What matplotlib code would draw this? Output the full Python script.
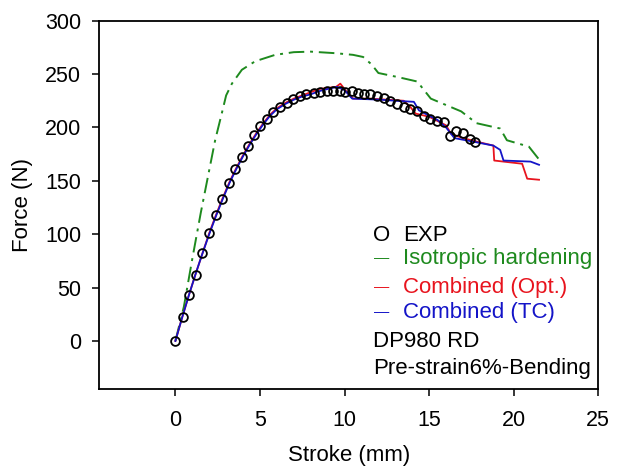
import matplotlib
matplotlib.use("Agg")
import matplotlib.pyplot as plt

plt.rcParams['font.family'] = ['Liberation Sans', 'DejaVu Sans']

# experimental points
exp_x = [0.0, 0.42, 0.83, 1.22, 1.60, 1.97, 2.39, 2.74, 3.14, 3.55, 3.91, 4.28, 4.66,
         5.01, 5.41, 5.80, 6.20, 6.59, 6.95, 7.34, 7.73, 8.17, 8.56, 8.96, 9.31, 9.71,
         10.04, 10.44, 10.77, 11.13, 11.52, 11.92, 12.31, 12.71, 13.10, 13.49, 13.89,
         14.28, 14.68, 15.07, 15.47, 15.86, 16.21, 16.61, 17.00, 17.40, 17.73]
exp_y = [0, 22, 43, 62, 82, 101, 118, 133, 148, 161, 172, 183, 193,
         201, 208, 214, 219, 223, 227, 229, 231, 232, 233, 234, 234, 234,
         233, 234, 232, 231, 231, 229, 228, 225, 222, 219, 217,
         215, 211, 208, 206, 205, 192, 197, 195, 189, 186]

iso_x = [0, 0.5, 1.0, 1.5, 2.0, 2.35, 2.74, 3.0, 3.34, 3.93, 4.72, 5.9, 7.0, 8.0, 9.5,
         10.5, 11.1, 11.6, 12.0, 13.2, 14.3, 15.1, 16.0, 16.9, 17.8, 19.2, 19.6, 20.9, 21.5]
iso_y = [0, 32, 77, 120, 160, 188, 213, 230, 241, 254, 262, 268, 270.5, 271, 269.5,
         268, 266, 259, 251, 247, 243, 227, 221, 215, 204, 199, 188, 182, 170]

opt_x = [0, 0.4, 0.8, 1.2, 1.6, 2.0, 2.4, 2.8, 3.2, 3.6, 4.0, 4.4, 4.8, 5.2, 5.6, 6.0,
         6.5, 7.0, 7.5, 8.0, 8.5, 9.0, 9.5, 9.75, 10.2, 10.5, 11.5, 12.5, 13.5, 13.9,
         14.2, 15.0, 16.0, 16.3, 17.0, 18.0, 18.8, 18.85, 20.5, 20.8, 21.5]
opt_y = [0, 22, 43, 63, 82, 101, 118, 134, 149, 162, 174, 185, 195, 204, 212, 218,
         223, 227, 230, 233, 236, 237, 238, 241, 232, 227, 227, 226, 225, 219,
         213, 210, 202, 194, 190, 186, 183, 169, 166, 152, 151]

tc_x = [0, 0.4, 0.8, 1.2, 1.6, 2.0, 2.4, 2.8, 3.2, 3.6, 4.0, 4.4, 4.8, 5.2, 5.6, 6.0,
        6.5, 7.0, 7.5, 8.0, 8.5, 9.0, 9.55, 10.0, 10.45, 12.1, 13.0, 14.1, 14.4, 15.0,
        15.5, 16.0, 16.5, 17.5, 18.8, 19.2, 19.4, 21.0, 21.5]
tc_y = [0, 22, 43, 63, 82, 100, 117, 133, 148, 161, 173, 184, 194, 203, 211, 217,
        222, 226, 229, 231, 234, 236, 238, 235, 227, 226, 225, 224, 216, 211,
        207, 200, 190, 187, 183, 179, 169, 168, 165]

labels = ['EXP', 'Isotropic hardening', 'Combined (Opt.)', 'Combined (TC)']
notes = ['DP980 RD', 'Pre-strain6%-Bending']

green = '#1e8a1e'
red = '#e8141e'
blue = '#1414c8'

fig = plt.figure(figsize=(6.34, 4.71), dpi=100)
ax = fig.add_axes([0.1566, 0.1741, 0.787, 0.782])

ax.plot(iso_x, iso_y, color=green, linewidth=1.4, dashes=(8, 3, 1.5, 3))
ax.plot(opt_x, opt_y, color=red, linewidth=1.3)
ax.plot(tc_x, tc_y, color=blue, linewidth=1.3)
ax.plot(exp_x, exp_y, 'o', mfc='none', mec='black', ms=6.3, mew=1.3)

ax.set_xlim(-4.5, 25)
ax.set_ylim(-45, 300)
ax.set_xticks([0, 5, 10, 15, 20, 25])
ax.set_yticks([0, 50, 100, 150, 200, 250, 300])
ax.tick_params(direction='out', length=5, width=1.1, labelsize=15.5, top=False, right=False)
ax.tick_params(axis='x', pad=10)
ax.tick_params(axis='y', pad=8)
ax.set_xlabel('Stroke (mm)', fontsize=16, va='top')
ax.set_ylabel('Force (N)', fontsize=16)
ax.xaxis.set_label_coords(0.5, -0.152)
ax.yaxis.set_label_coords(-0.133, 0.5)
for s in ax.spines.values():
    s.set_linewidth(1.3)

# legend-like text block
fs = 16
ax.text(11.7, 99, 'O', fontsize=fs, color='black', va='center')
ax.text(13.45, 99, labels[0], fontsize=fs, color='black', va='center')
for lab, col, yy in zip(labels[1:], [green, red, blue], [77.5, 50.3, 26.9]):
    ax.text(11.75, yy, '\u2014', fontsize=11, color=col, va='center')
    ax.text(13.45, yy, lab, fontsize=fs, color=col, va='center')
ax.text(11.7, -0.3, notes[0], fontsize=fs, color='black', va='center')
ax.text(11.7, -25.6, notes[1], fontsize=fs, color='black', va='center')

fig.savefig('out.png', dpi=100)
